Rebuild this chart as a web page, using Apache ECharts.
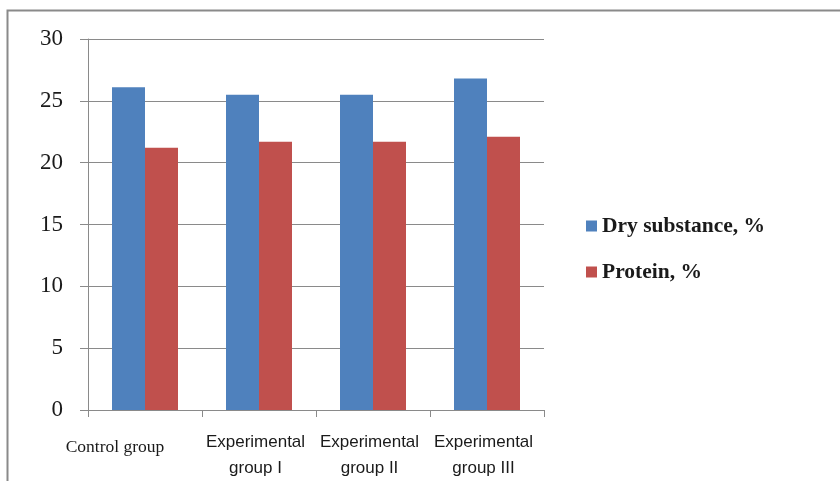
<!DOCTYPE html>
<html><head><meta charset="utf-8">
<script src="https://cdn.jsdelivr.net/npm/echarts@6/dist/echarts.min.js"></script>
<style>html,body{margin:0;padding:0;background:#fff}#c{width:840px;height:481px}</style>
</head><body><div id="c"></div>
<script>
var categories = ['Control group', 'Experimental\ngroup I', 'Experimental\ngroup II', 'Experimental\ngroup III'];
var drySubstance = [26.1, 25.5, 25.5, 26.8];
var protein = [21.2, 21.7, 21.7, 22.1];
var seriesNames = ['Dry substance, %', 'Protein, %'];

var chart = echarts.init(document.getElementById('c'));
var catData = categories.map(function (c, i) {
  if (i === 0) {
    return { value: c, textStyle: { fontFamily: 'Liberation Serif', fontSize: 17.5, padding: [5, 60, 0, 0] } };
  }
  return { value: c, textStyle: { padding: [0, 7, 0, 0] } };
});
chart.setOption({
  animation: false,
  graphic: [
    { type: 'polyline', shape: { points: [[7.5, 481], [7.5, 10.5], [840, 10.5]] }, style: { stroke: '#8a8a8a', lineWidth: 2, fill: null } }
  ],
  grid: { left: 88, top: 39, width: 456, height: 372 },
  legend: {
    orient: 'vertical', left: 581, top: 210, itemWidth: 11, itemHeight: 11, itemGap: 24, icon: 'rect',
    textStyle: { fontFamily: 'Liberation Serif', fontWeight: 'bold', fontSize: 21.5, color: '#1a1a1a' },
    data: seriesNames
  },
  xAxis: {
    type: 'category', data: catData,
    axisLine: { lineStyle: { color: '#8a8a8a' } },
    axisTick: { show: true, length: 7, interval: 0, lineStyle: { color: '#8a8a8a' } },
    axisLabel: { interval: 0, margin: 19, fontFamily: 'Liberation Sans', fontSize: 17, lineHeight: 26, color: '#1a1a1a' }
  },
  yAxis: {
    type: 'value', min: 0, max: 30, interval: 5,
    axisLine: { show: true, lineStyle: { color: '#8a8a8a' } },
    axisTick: { show: true, length: 8, lineStyle: { color: '#8a8a8a' } },
    splitLine: { lineStyle: { color: '#8a8a8a' } },
    axisLabel: { margin: 25, fontFamily: 'Liberation Serif', fontSize: 23, color: '#1a1a1a' }
  },
  series: [
    { name: seriesNames[0], type: 'bar', data: drySubstance, barWidth: 33, barGap: '0%', itemStyle: { color: '#4F81BD' } },
    { name: seriesNames[1], type: 'bar', data: protein, barWidth: 33, itemStyle: { color: '#C0504D' } }
  ]
});
</script></body></html>
